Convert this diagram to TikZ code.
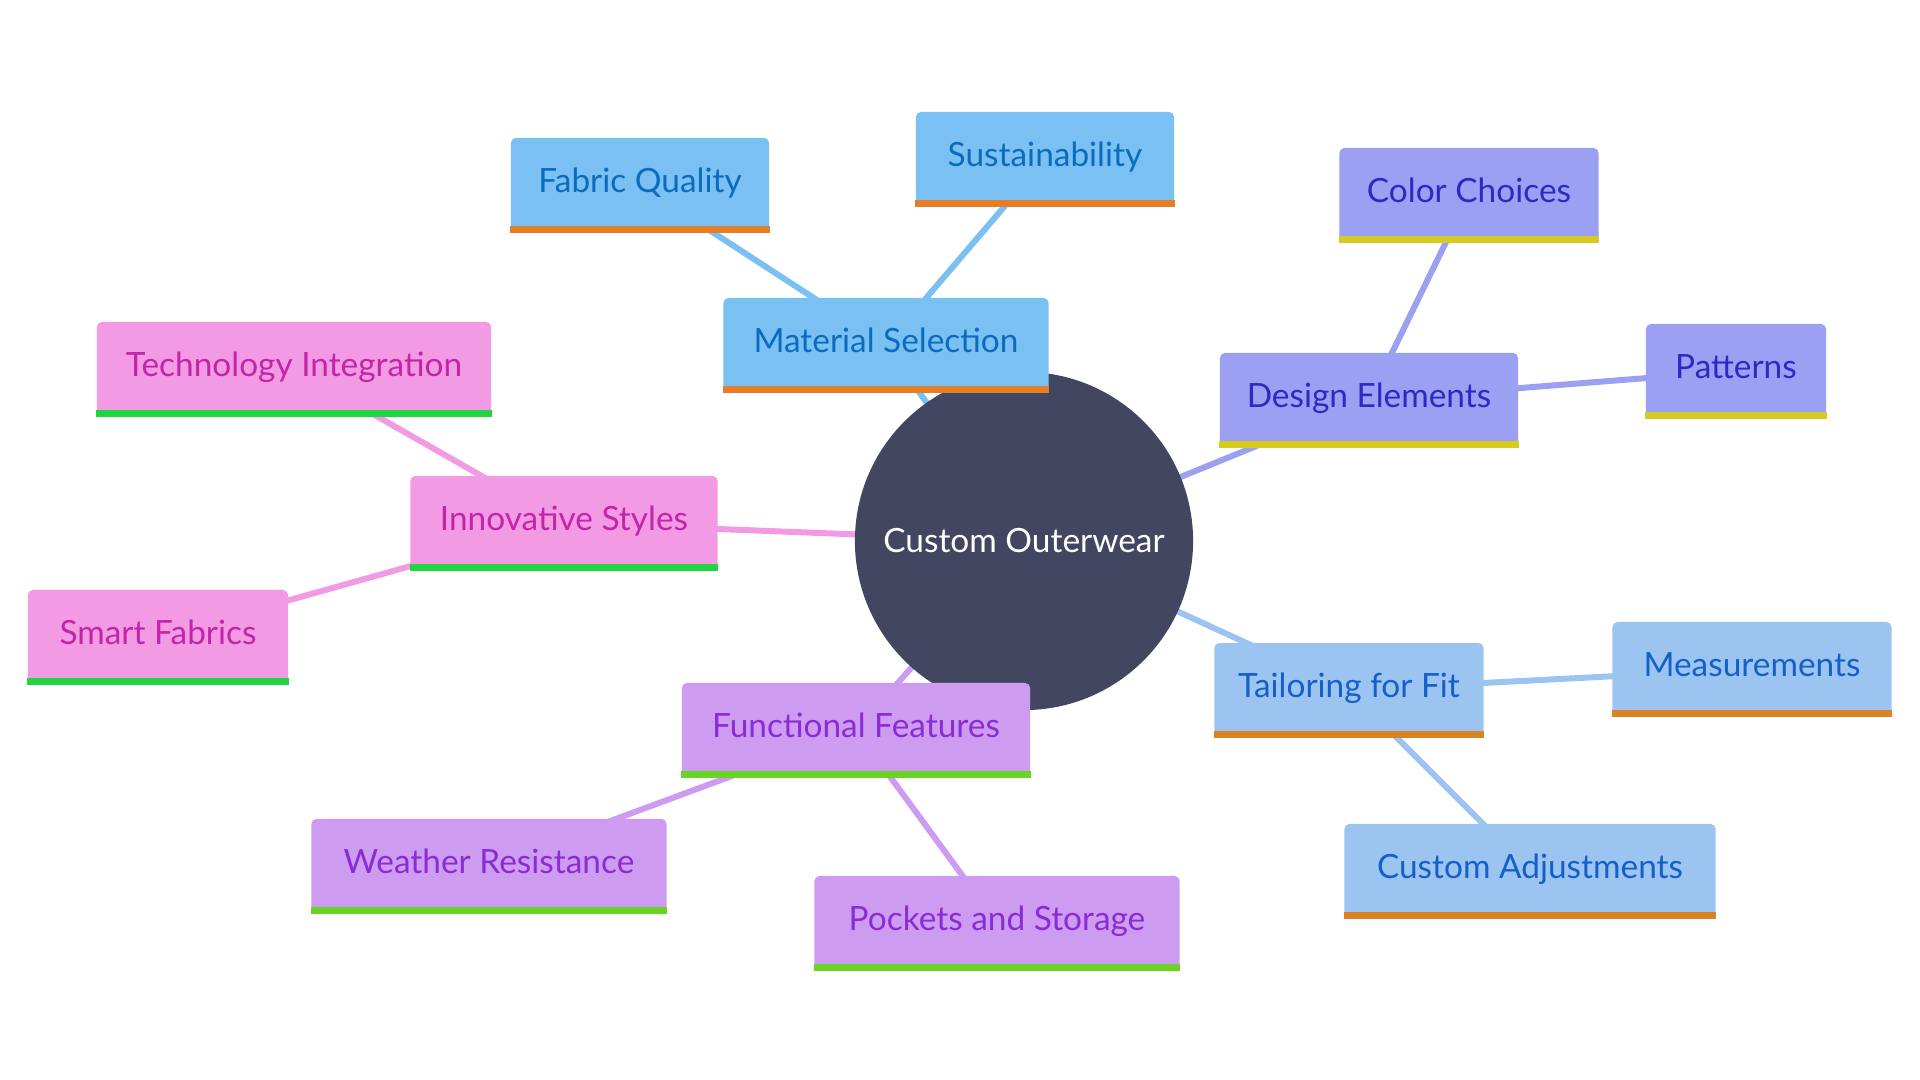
\documentclass[tikz,border=0pt]{standalone}
\usepackage{fontspec}
\setmainfont{Lato}
\usetikzlibrary{backgrounds}

\definecolor{core}{HTML}{434660}
\definecolor{matfill}{HTML}{7BC0F2}
\definecolor{mattext}{HTML}{0B6BBF}
\definecolor{matbar}{HTML}{E67E28}
\definecolor{desfill}{HTML}{9BA0F2}
\definecolor{destext}{HTML}{2B2BC4}
\definecolor{desbar}{HTML}{D6CB1F}
\definecolor{tayfill}{HTML}{9CC4F0}
\definecolor{taytext}{HTML}{1560C8}
\definecolor{taybar}{HTML}{D98324}
\definecolor{funfill}{HTML}{CD9CF0}
\definecolor{funtext}{HTML}{8A2BD6}
\definecolor{funbar}{HTML}{6BD324}
\definecolor{innfill}{HTML}{F29AE3}
\definecolor{inntext}{HTML}{C424A8}
\definecolor{innbar}{HTML}{22D342}

\tikzset{
  topic/.style={rounded corners=0.05cm, minimum height=0.94cm, inner xsep=0pt,
    text height=0.25cm, text depth=0.1cm, font=\fontsize{9.5}{11}\selectfont},
  mat/.style={topic, fill=matfill, text=mattext},
  des/.style={topic, fill=desfill, text=destext},
  tay/.style={topic, fill=tayfill, text=taytext},
  fun/.style={topic, fill=funfill, text=funtext},
  inn/.style={topic, fill=innfill, text=inntext},
  link/.style={line width=0.06cm},
}

\begin{document}
\begin{tikzpicture}[x=0.01cm, y=-0.01cm]
      \useasboundingbox (0,0) rectangle (1920,1080);
      \node (root) at (1024,541) [circle, fill=core, text=white, minimum size=3.38cm,
        font=\fontsize{9.5}{11}\selectfont] {Custom Outerwear};
      \node (mat) at (886,345) [mat, minimum width=3.25cm] {Material Selection};
      \node (fab) at (640,185) [mat, minimum width=2.58cm] {Fabric Quality};
      \node (sus) at (1045,159) [mat, minimum width=2.58cm] {Sustainability};
      \node (des) at (1369,400) [des, minimum width=2.98cm] {Design Elements};
      \node (col) at (1469,195) [des, minimum width=2.59cm] {Color Choices};
      \node (pat) at (1736,371) [des, minimum width=1.80cm] {Patterns};
      \node (tay) at (1349,690) [tay, minimum width=2.69cm] {Tailoring for Fit};
      \node (mea) at (1752,669) [tay, minimum width=2.79cm] {Measurements};
      \node (adj) at (1530,871) [tay, minimum width=3.71cm] {Custom Adjustments};
      \node (fun) at (856,730) [fun, minimum width=3.48cm] {Functional Features};
      \node (wea) at (489,866) [fun, minimum width=3.55cm] {Weather Resistance};
      \node (poc) at (997,923) [fun, minimum width=3.65cm] {Pockets and Storage};
      \node (inn) at (564,523) [inn, minimum width=3.07cm] {Innovative Styles};
      \node (tec) at (294,369) [inn, minimum width=3.94cm] {Technology Integration};
      \node (sma) at (158,637) [inn, minimum width=2.60cm] {Smart Fabrics};
      % bottom bars
      \foreach \n/\c in {mat/matbar, fab/matbar, sus/matbar, des/desbar, col/desbar,
          pat/desbar, tay/taybar, mea/taybar, adj/taybar, fun/funbar, wea/funbar,
          poc/funbar, inn/innbar, tec/innbar, sma/innbar}
        \fill[\c] (\n.south west) rectangle ([yshift=0.07cm]\n.south east);
      \begin{pgfonlayer}{background}
        \draw [link, matfill] (root.center) -- (mat.center);
        \draw [link, matfill] (mat.center) -- (fab.center);
        \draw [link, matfill] (mat.center) -- (sus.center);
        \draw [link, desfill] (root.center) -- (des.center);
        \draw [link, desfill] (des.center) -- (col.center);
        \draw [link, desfill] (des.center) -- (pat.center);
        \draw [link, tayfill] (root.center) -- (tay.center);
        \draw [link, tayfill] (tay.center) -- (mea.center);
        \draw [link, tayfill] (tay.center) -- (adj.center);
        \draw [link, funfill] (root.center) -- (fun.center);
        \draw [link, funfill] (fun.center) -- (wea.center);
        \draw [link, funfill] (fun.center) -- (poc.center);
        \draw [link, innfill] (root.center) -- (inn.center);
        \draw [link, innfill] (inn.center) -- (tec.center);
        \draw [link, innfill] (inn.center) -- (sma.center);
      \end{pgfonlayer}
    \end{tikzpicture}
\end{document}
